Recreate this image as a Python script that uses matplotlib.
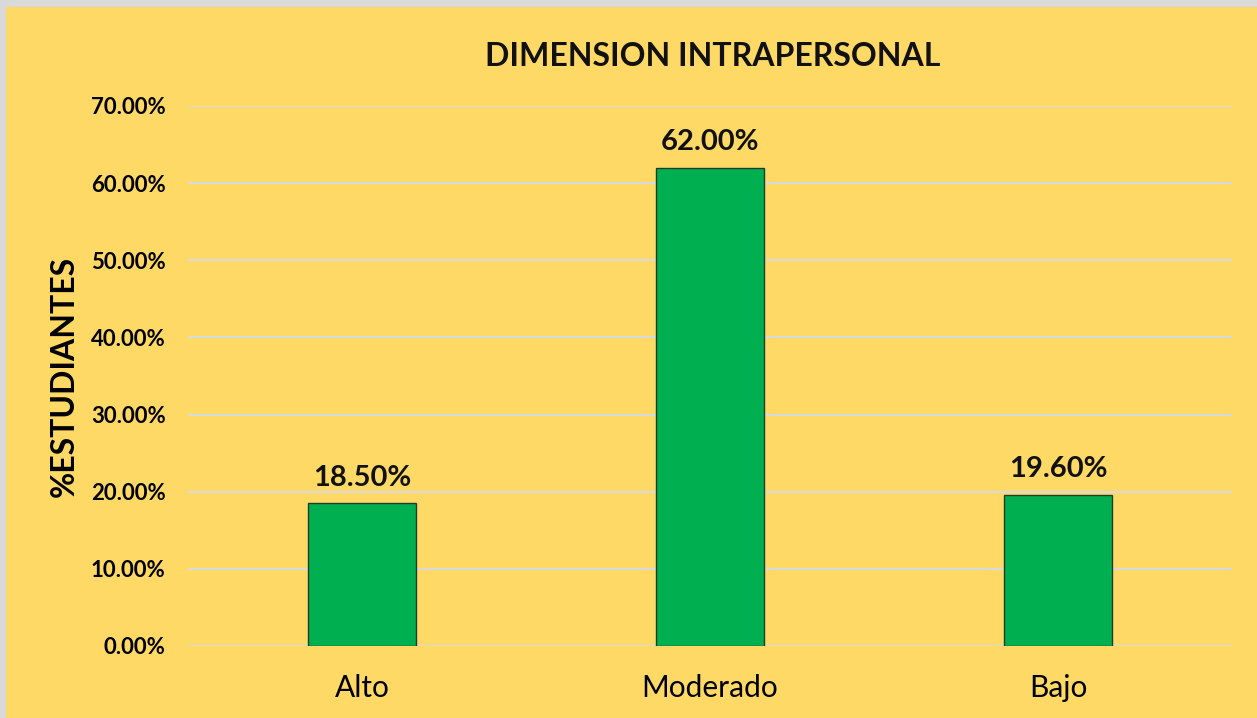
import matplotlib.pyplot as plt
from matplotlib.patches import Rectangle
from matplotlib.ticker import FuncFormatter, MultipleLocator

categories = ["Alto", "Moderado", "Bajo"]
values = [18.50, 62.00, 19.60]
labels = ["18.50%", "62.00%", "19.60%"]

plt.rcParams['font.family'] = ['Lato', 'DejaVu Sans']

bg = '#FFD966'
fig = plt.figure(figsize=(12.57, 7.18), dpi=100)
fig.patch.set_facecolor('#D9D9D9')
fig.patches.append(Rectangle((6/1257, 0), 1, 1 - 7/718, transform=fig.transFigure,
                             facecolor=bg, edgecolor='none', zorder=-1))

ax = fig.add_axes([188/1257, 72/718, (1232-188)/1257, 540/718])
ax.set_facecolor(bg)
ax.patch.set_alpha(0)

x = range(len(categories))
bars = ax.bar(x, values, width=0.313, color='#00B050', edgecolor='#1F3B2A', linewidth=1.0, zorder=3)
for i, (v, lab) in enumerate(zip(values, labels)):
    ax.annotate(lab, (i, v), xytext=(0, 9), textcoords='offset points',
                ha='center', va='bottom', fontsize=21, fontweight='bold', color='#111111')

ax.set_xlim(-0.5, 2.5)
ax.set_ylim(0, 70)
ax.yaxis.set_major_locator(MultipleLocator(10))
ax.yaxis.set_major_formatter(FuncFormatter(lambda v, p: f"{v:.2f}%"))
ax.grid(axis='y', color='#D9D9D9', linewidth=1.5, zorder=0)
ax.set_axisbelow(True)
for s in ax.spines.values():
    s.set_visible(False)
ax.tick_params(axis='both', length=0)
ax.tick_params(axis='y', pad=16, labelsize=16)
ax.tick_params(axis='x', pad=20, labelsize=21.5)
for t in ax.get_yticklabels():
    t.set_fontweight('bold')
ax.set_xticks(list(x))
ax.set_xticklabels(categories)

ax.set_ylabel('%ESTUDIANTES', fontsize=23, fontweight='bold', labelpad=9)
fig.text(713/1257, 1 - 57/718, 'DIMENSION INTRAPERSONAL', ha='center', va='center',
         fontsize=23, fontweight='bold', color='#111111')

fig.savefig('out.png', dpi=100, facecolor=fig.get_facecolor())
